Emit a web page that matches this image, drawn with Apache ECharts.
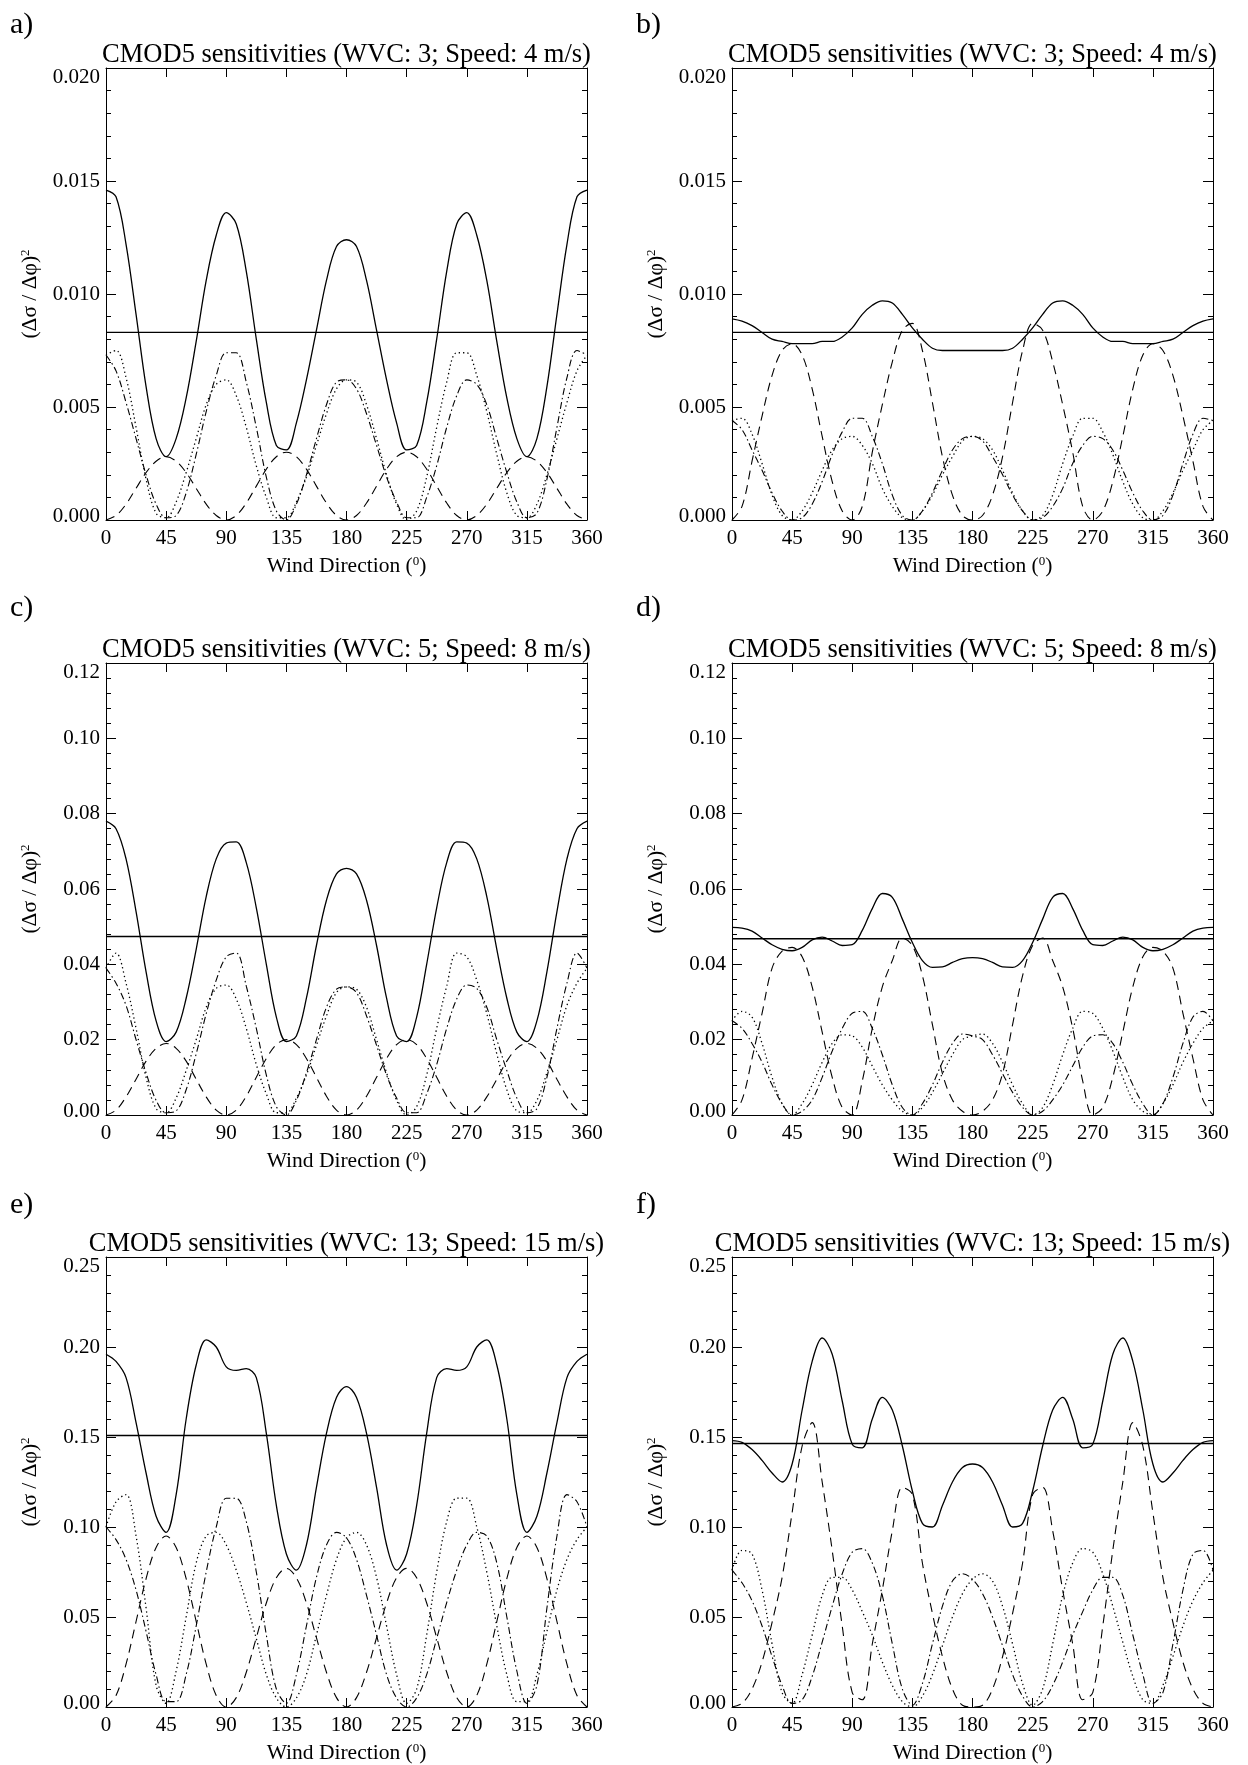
<!DOCTYPE html>
<html><head><meta charset="utf-8">
<script src="https://cdn.jsdelivr.net/npm/echarts@6/dist/echarts.min.js"></script>
<style>html,body{margin:0;padding:0;background:#fff}#c{width:1248px;height:1765px}</style>
</head><body><div id="c"></div>
<script>
// ---------------- DATA ----------------
const angles = [0,7.5,15,22.5,30,37.5,45,52.5,60,67.5,75,82.5,90,97.5,105,112.5,120,127.5,135,142.5,150,157.5,165,172.5,180,187.5,195,202.5,210,217.5,225,232.5,240,247.5,255,262.5,270,277.5,285,292.5,300,307.5,315,322.5,330,337.5,345,352.5,360];
const xTickLabels = ['0','45','90','135','180','225','270','315','360'];
const yLabels020 = ['0.000','0.005','0.010','0.015','0.020'];
const yLabels012 = ['0.00','0.02','0.04','0.06','0.08','0.10','0.12'];
const yLabels025 = ['0.00','0.05','0.10','0.15','0.20','0.25'];

const titleA = 'CMOD5 sensitivities (WVC: 3; Speed: 4 m/s)';
const titleC = 'CMOD5 sensitivities (WVC: 5; Speed: 8 m/s)';
const titleE = 'CMOD5 sensitivities (WVC: 13; Speed: 15 m/s)';

// panel a
const aSolid = [0.0146,0.0143,0.0122,0.0091,0.0059,0.0036,0.0028,0.0036,0.0054,0.0079,0.0106,0.0126,0.0136,0.0131,0.0110,0.0080,0.0052,0.0033,0.0031,0.0043,0.0062,0.0084,0.0106,0.0121,0.0124,0.0121,0.0106,0.0084,0.0062,0.0043,0.0031,0.0033,0.0052,0.0080,0.0110,0.0131,0.0136,0.0126,0.0106,0.0079,0.0054,0.0036,0.0028,0.0036,0.0059,0.0091,0.0122,0.0143,0.0146];
const aDashed = [0,0.0002,0.0007,0.0014,0.0021,0.0026,0.0028,0.0026,0.0021,0.0014,0.0007,0.0002,0,0.0002,0.00075,0.0015,0.00225,0.0028,0.0030,0.0028,0.00225,0.0015,0.00075,0.0002,0,0.0002,0.00075,0.0015,0.00225,0.0028,0.0030,0.0028,0.00225,0.0015,0.00075,0.0002,0,0.0002,0.0007,0.0014,0.0021,0.0026,0.0028,0.0026,0.0021,0.0014,0.0007,0.0002,0];
const aDotted = [0.0073,0.0075,0.0063,0.0041,0.0018,0.0003,0.0001,0.0008,0.0021,0.0036,0.0051,0.0060,0.0062,0.0055,0.0041,0.0024,0.0010,0.0001,0.0001,0.0008,0.0019,0.0033,0.0047,0.0058,0.0062,0.0061,0.0051,0.0036,0.0020,0.0007,0.0000,0.0004,0.0019,0.0041,0.0061,0.0074,0.0074,0.0064,0.0048,0.0029,0.0012,0.0002,0.0001,0.0007,0.0020,0.0036,0.0052,0.0066,0.0073];
const aDashDot = [0.0073,0.0066,0.0052,0.0036,0.0020,0.0007,0.0001,0.0002,0.0012,0.0029,0.0048,0.0064,0.0074,0.0074,0.0061,0.0041,0.0019,0.0004,0.0000,0.0007,0.0020,0.0036,0.0051,0.0061,0.0062,0.0058,0.0047,0.0033,0.0019,0.0008,0.0001,0.0001,0.0010,0.0024,0.0041,0.0055,0.0062,0.0060,0.0051,0.0036,0.0021,0.0008,0.0001,0.0003,0.0018,0.0041,0.0063,0.0075,0.0073];
const aMean = 0.0083;

// panel b
const bSolid = [0.0089,0.0088,0.0086,0.0083,0.0080,0.0079,0.0078,0.0078,0.0078,0.0079,0.0079,0.0081,0.0085,0.0091,0.0095,0.0097,0.0096,0.0091,0.0085,0.0080,0.0076,0.0075,0.0075,0.0075,0.0075,0.0075,0.0075,0.0075,0.0076,0.0080,0.0085,0.0091,0.0096,0.0097,0.0095,0.0091,0.0085,0.0081,0.0079,0.0079,0.0078,0.0078,0.0078,0.0079,0.0080,0.0083,0.0086,0.0088,0.0089];
const bDashed = [0,0.0006,0.0026,0.0046,0.0064,0.0075,0.0078,0.0073,0.0058,0.0037,0.0017,0.0004,0,0.0006,0.0030,0.0051,0.0070,0.0084,0.0087,0.0075,0.0052,0.0028,0.0011,0.0002,0,0.0002,0.0011,0.0028,0.0052,0.0075,0.0087,0.0084,0.0070,0.0051,0.0030,0.0006,0,0.0004,0.0017,0.0037,0.0058,0.0073,0.0078,0.0075,0.0064,0.0046,0.0026,0.0006,0];
const bDotted = [0.0044,0.0045,0.0038,0.0025,0.0011,0.0002,0.0000,0.0004,0.0012,0.0022,0.0031,0.0036,0.0037,0.0033,0.0025,0.0014,0.0006,0.0001,0.0000,0.0004,0.0011,0.0020,0.0028,0.0035,0.0037,0.0036,0.0031,0.0022,0.0012,0.0004,0.0000,0.0002,0.0011,0.0025,0.0037,0.0045,0.0045,0.0039,0.0029,0.0017,0.0007,0.0001,0.0000,0.0004,0.0012,0.0022,0.0031,0.0040,0.0044];
const bDashDot = [0.0044,0.0040,0.0031,0.0022,0.0012,0.0004,0.0000,0.0001,0.0007,0.0017,0.0029,0.0039,0.0045,0.0045,0.0037,0.0025,0.0011,0.0002,0.0000,0.0004,0.0012,0.0022,0.0031,0.0036,0.0037,0.0035,0.0028,0.0020,0.0011,0.0004,0.0000,0.0001,0.0006,0.0014,0.0025,0.0033,0.0037,0.0036,0.0031,0.0022,0.0012,0.0004,0.0000,0.0002,0.0011,0.0025,0.0038,0.0045,0.0044];
const bMean = 0.0083;

// panel c
const cSolid = [0.078,0.076,0.068,0.054,0.038,0.025,0.0195,0.022,0.031,0.044,0.058,0.068,0.0722,0.0725,0.067,0.055,0.040,0.026,0.0195,0.021,0.031,0.045,0.057,0.064,0.0655,0.064,0.057,0.045,0.031,0.021,0.0195,0.026,0.040,0.055,0.067,0.0725,0.0722,0.068,0.058,0.044,0.031,0.022,0.0195,0.025,0.038,0.054,0.068,0.076,0.078];
const cDashed = [0,0.0013,0.0048,0.0095,0.0143,0.0177,0.019,0.0177,0.0143,0.0095,0.0048,0.0013,0,0.0013,0.005,0.010,0.015,0.0187,0.020,0.0187,0.015,0.010,0.005,0.0013,0,0.0013,0.005,0.010,0.015,0.0187,0.020,0.0187,0.015,0.010,0.005,0.0013,0,0.0013,0.0048,0.0095,0.0143,0.0177,0.019,0.0177,0.0143,0.0095,0.0048,0.0013,0];
const cDotted = [0.039,0.043,0.035,0.023,0.010,0.0017,0.0006,0.0045,0.0118,0.020,0.0286,0.0336,0.0345,0.0308,0.023,0.0134,0.0056,0.0006,0.0006,0.0045,0.0106,0.0185,0.0263,0.0325,0.034,0.0334,0.0286,0.020,0.0112,0.0039,0.0000,0.0022,0.0106,0.023,0.0342,0.043,0.042,0.0358,0.0269,0.0162,0.0067,0.0011,0.0006,0.0039,0.0112,0.020,0.0291,0.035,0.039];
const cDashDot = [0.039,0.035,0.0291,0.020,0.0112,0.0039,0.0006,0.0011,0.0067,0.0162,0.0269,0.0358,0.042,0.043,0.0342,0.023,0.0106,0.0022,0.0000,0.0039,0.0112,0.020,0.0286,0.0334,0.034,0.0325,0.0263,0.0185,0.0106,0.0045,0.0006,0.0006,0.0056,0.0134,0.023,0.0308,0.0345,0.0336,0.0286,0.020,0.0118,0.0045,0.0006,0.0017,0.010,0.023,0.035,0.043,0.039];
const cMean = 0.0474;

// panel d
const dSolid = [0.0498,0.0496,0.0488,0.0470,0.0452,0.0440,0.0436,0.0445,0.0465,0.0472,0.0462,0.0450,0.0452,0.0490,0.0548,0.0588,0.0578,0.0520,0.0458,0.0410,0.0392,0.0393,0.0405,0.0415,0.0418,0.0415,0.0405,0.0393,0.0392,0.0410,0.0458,0.0520,0.0578,0.0588,0.0548,0.0490,0.0452,0.0450,0.0462,0.0472,0.0465,0.0445,0.0436,0.0440,0.0452,0.0470,0.0488,0.0496,0.0498];
const dDashed = [0,0.004,0.015,0.027,0.039,0.0435,0.0445,0.042,0.034,0.022,0.010,0.002,0,0.009,0.023,0.034,0.041,0.047,0.045,0.037,0.024,0.011,0.004,0.001,0,0.001,0.004,0.011,0.024,0.037,0.045,0.047,0.041,0.034,0.023,0.009,0,0.002,0.010,0.022,0.034,0.042,0.0445,0.0435,0.039,0.027,0.015,0.004,0];
const dDotted = [0.025,0.0275,0.026,0.019,0.010,0.003,0.000,0.003,0.008,0.014,0.019,0.0213,0.021,0.018,0.013,0.008,0.004,0.001,0.000,0.002,0.006,0.011,0.016,0.020,0.021,0.0215,0.019,0.014,0.008,0.003,0.000,0.002,0.008,0.016,0.023,0.0275,0.027,0.023,0.017,0.010,0.004,0.001,0.000,0.003,0.008,0.014,0.019,0.023,0.025];
const dDashDot = [0.025,0.023,0.019,0.014,0.008,0.003,0.000,0.001,0.004,0.010,0.017,0.023,0.027,0.0275,0.023,0.016,0.008,0.002,0.000,0.003,0.008,0.014,0.019,0.0215,0.021,0.020,0.016,0.011,0.006,0.002,0.000,0.001,0.004,0.008,0.013,0.018,0.021,0.0213,0.019,0.014,0.008,0.003,0.000,0.003,0.010,0.019,0.026,0.0275,0.025];
const dMean = 0.0468;

// panel e
const eSolid = [0.196,0.192,0.183,0.158,0.130,0.106,0.097,0.118,0.160,0.190,0.204,0.200,0.189,0.187,0.188,0.183,0.152,0.112,0.085,0.076,0.090,0.122,0.152,0.172,0.178,0.172,0.152,0.122,0.090,0.076,0.085,0.112,0.152,0.183,0.188,0.187,0.189,0.200,0.204,0.190,0.160,0.118,0.097,0.106,0.130,0.158,0.183,0.192,0.196];
const eDashed = [0,0.0064,0.0238,0.0475,0.0713,0.0886,0.095,0.0886,0.0713,0.0475,0.0238,0.0064,0,0.0052,0.0193,0.0385,0.0578,0.0718,0.077,0.0718,0.0578,0.0385,0.0193,0.0052,0,0.0052,0.0193,0.0385,0.0578,0.0718,0.077,0.0718,0.0578,0.0385,0.0193,0.0052,0,0.0064,0.0238,0.0475,0.0713,0.0886,0.095,0.0886,0.0713,0.0475,0.0238,0.0064,0];
const eDotted = [0.100,0.114,0.118,0.095,0.055,0.012,0.002,0.020,0.050,0.080,0.095,0.097,0.090,0.076,0.058,0.038,0.018,0.005,0.000,0.005,0.018,0.040,0.062,0.082,0.094,0.097,0.090,0.072,0.045,0.018,0.002,0.010,0.040,0.075,0.103,0.116,0.116,0.100,0.075,0.045,0.018,0.003,0.003,0.018,0.042,0.065,0.082,0.093,0.100];
const eDashDot = [0.100,0.093,0.082,0.065,0.042,0.018,0.003,0.003,0.018,0.045,0.075,0.100,0.116,0.116,0.103,0.075,0.040,0.010,0.002,0.018,0.045,0.072,0.090,0.097,0.094,0.082,0.062,0.040,0.018,0.005,0.000,0.005,0.018,0.038,0.058,0.076,0.090,0.097,0.095,0.080,0.050,0.020,0.002,0.012,0.055,0.095,0.118,0.114,0.100];
const eMean = 0.1508;

// panel f
const fSolid = [0.148,0.147,0.143,0.137,0.130,0.125,0.135,0.165,0.192,0.205,0.196,0.170,0.146,0.144,0.160,0.172,0.165,0.145,0.120,0.102,0.100,0.112,0.125,0.133,0.135,0.133,0.125,0.112,0.100,0.102,0.120,0.145,0.165,0.172,0.160,0.144,0.146,0.170,0.196,0.205,0.192,0.165,0.135,0.125,0.130,0.137,0.143,0.147,0.148];
const fDashed = [0,0.002,0.010,0.025,0.047,0.072,0.108,0.145,0.158,0.125,0.087,0.045,0.008,0.004,0.035,0.065,0.098,0.122,0.118,0.080,0.052,0.028,0.010,0.001,0,0.001,0.010,0.028,0.052,0.080,0.118,0.122,0.098,0.065,0.035,0.004,0.008,0.045,0.087,0.125,0.158,0.145,0.108,0.072,0.047,0.025,0.010,0.002,0];
const fDotted = [0.076,0.087,0.085,0.065,0.035,0.008,0.002,0.018,0.040,0.062,0.072,0.072,0.065,0.053,0.040,0.025,0.012,0.003,0.000,0.006,0.018,0.034,0.050,0.063,0.071,0.074,0.070,0.056,0.035,0.013,0.001,0.010,0.035,0.062,0.080,0.088,0.086,0.074,0.056,0.036,0.017,0.004,0.002,0.012,0.028,0.045,0.059,0.069,0.076];
const fDashDot = [0.076,0.069,0.059,0.045,0.028,0.012,0.002,0.004,0.017,0.036,0.056,0.074,0.086,0.088,0.080,0.062,0.035,0.010,0.001,0.013,0.035,0.056,0.070,0.074,0.071,0.063,0.050,0.034,0.018,0.006,0.000,0.003,0.012,0.025,0.040,0.053,0.065,0.072,0.072,0.062,0.040,0.018,0.002,0.008,0.035,0.065,0.085,0.087,0.076];
const fMean = 0.1464;

// ---------------- LAYOUT / STYLE ----------------
const FONT = '"Liberation Serif", "Times New Roman", Times, serif';
const gridPos = [[106,68],[732,68],[106,663],[732,663],[106,1257],[732,1257]];
const GW = 481, GH = 452;
const labelY = [25, 25, 608, 608, 1205, 1205];

const panels = [
  {label:'a)', title:titleA, s:aSolid, da:aDashed, dt:aDotted, dd:aDashDot, m:aMean, max:0.020, step:0.005, yl:yLabels020},
  {label:'b)', title:titleA, s:bSolid, da:bDashed, dt:bDotted, dd:bDashDot, m:bMean, max:0.020, step:0.005, yl:yLabels020},
  {label:'c)', title:titleC, s:cSolid, da:cDashed, dt:cDotted, dd:cDashDot, m:cMean, max:0.12, step:0.02, yl:yLabels012},
  {label:'d)', title:titleC, s:dSolid, da:dDashed, dt:dDotted, dd:dDashDot, m:dMean, max:0.12, step:0.02, yl:yLabels012},
  {label:'e)', title:titleE, s:eSolid, da:eDashed, dt:eDotted, dd:eDashDot, m:eMean, max:0.25, step:0.05, yl:yLabels025},
  {label:'f)', title:titleE, s:fSolid, da:fDashed, dt:fDotted, dd:fDashDot, m:fMean, max:0.25, step:0.05, yl:yLabels025}
];

const grids = [], xAxes = [], yAxes = [], series = [], graphics = [];
const black = '#000';
const TICKFS = 21, NAMEFS = 21.5;

panels.forEach((p, k) => {
  const [gl, gt] = gridPos[k];
  grids.push({left: gl, top: gt, width: GW, height: GH, containLabel: false});
  const tickStyle = {color: black, width: 1};
  xAxes.push({
    type:'value', gridIndex:k, position:'bottom', min:0, max:360, interval:45,
    axisLine:{show:true, onZero:false, lineStyle:tickStyle},
    axisTick:{show:true, inside:true, length:9, lineStyle:tickStyle},
    splitLine:{show:false},
    axisLabel:{color:black, fontFamily:FONT, fontSize:TICKFS, margin:8,
      formatter:(v)=>xTickLabels[Math.round(v/45)]},
    name:'Wind Direction ({s|0})', nameLocation:'middle', nameGap:35,
    nameTextStyle:{color:black, fontFamily:FONT, fontSize:NAMEFS,
      rich:{s:{fontFamily:FONT, fontSize:13, color:black, verticalAlign:'top', padding:[0,0,9,0]}}}
  });
  xAxes.push({
    type:'value', gridIndex:k, position:'top', min:0, max:360, interval:45,
    axisLine:{show:true, onZero:false, lineStyle:tickStyle},
    axisTick:{show:true, inside:true, length:9, lineStyle:tickStyle},
    splitLine:{show:false}, axisLabel:{show:false}
  });
  const nLab = p.yl.length;
  const yl = p.yl, st = p.step;
  yAxes.push({
    type:'value', gridIndex:k, position:'left', min:0, max:p.max, interval:p.step,
    axisLine:{show:true, onZero:false, lineStyle:tickStyle},
    axisTick:{show:true, inside:true, length:10, lineStyle:tickStyle},
    minorTick:{show:true, splitNumber:5, length:5, lineStyle:tickStyle},
    splitLine:{show:false}, minorSplitLine:{show:false},
    axisLabel:{color:black, fontFamily:FONT, fontSize:TICKFS, margin:6, showMinLabel:true, showMaxLabel:true,
      formatter:(v)=>{const i=Math.round(v/st); const t=yl[i];
        if(i===nLab-1) return '{t|'+t+'}';
        if(i===0) return '{b|'+t+'}';
        return t;},
      rich:{t:{fontFamily:FONT, fontSize:TICKFS, color:black, padding:[18,0,0,0]},
            b:{fontFamily:FONT, fontSize:TICKFS, color:black, padding:[0,0,8,0]}}},
    name:'(\u0394\u03c3 / \u0394\u03c6){s|2}', nameLocation:'middle', nameGap:65, nameRotate:90,
    nameTextStyle:{color:black, fontFamily:FONT, fontSize:NAMEFS,
      rich:{s:{fontFamily:FONT, fontSize:13, color:black, verticalAlign:'top', padding:[0,0,9,0]}}}
  });
  yAxes.push({
    type:'value', gridIndex:k, position:'right', min:0, max:p.max, interval:p.step,
    axisLine:{show:true, onZero:false, lineStyle:tickStyle},
    axisTick:{show:true, inside:true, length:10, lineStyle:tickStyle},
    minorTick:{show:true, splitNumber:5, length:5, lineStyle:tickStyle},
    splitLine:{show:false}, axisLabel:{show:false}
  });
  const xi = 2*k, yi = 2*k;
  const mk = (arr, type, width, z) => ({
    type:'line', xAxisIndex:xi, yAxisIndex:yi, symbol:'none', showSymbol:false, silent:true,
    smooth:0.35, clip:true, z:z,
    lineStyle:{color:black, width:width, type:type},
    data: angles.map((a,i)=>[a, arr[i]])
  });
  series.push(mk(p.da, [9,6], 1.1, 2));
  series.push(mk(p.dt, [1.3,3], 1.3, 2));
  series.push(mk(p.dd, [7,3,1.5,3], 1.1, 2));
  series.push(mk(p.s, 'solid', 1.3, 3));
  series.push({type:'line', xAxisIndex:xi, yAxisIndex:yi, symbol:'none', showSymbol:false, silent:true,
    lineStyle:{color:black, width:1.4}, z:3, data:[[0,p.m],[360,p.m]]});

  graphics.push({type:'text', x: gl + GW/2, y: gt - 13,
    style:{text:p.title, font:'26.5px ' + FONT, fill:black, align:'center', verticalAlign:'middle',
      textAlign:'center', textVerticalAlign:'middle'}});
  graphics.push({type:'text', x: gl - 96, y: labelY[k],
    style:{text:p.label, font:'30px ' + FONT, fill:black, align:'left', verticalAlign:'middle',
      textAlign:'left', textVerticalAlign:'middle'}});
});

const chart = echarts.init(document.getElementById('c'), null, {renderer:'canvas', width:1248, height:1765});
chart.setOption({
  animation:false, backgroundColor:'#fff',
  grid:grids, xAxis:xAxes, yAxis:yAxes, series:series, graphic:graphics
});
</script></body></html>
